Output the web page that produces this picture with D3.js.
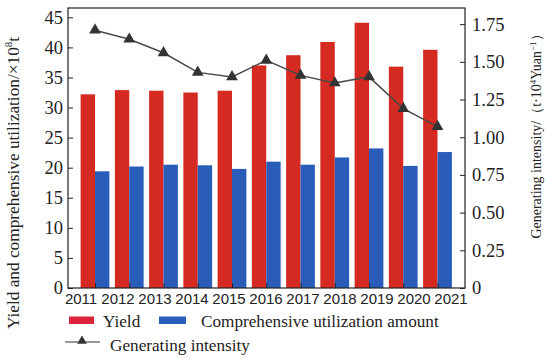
<!DOCTYPE html>
<html>
<head>
<meta charset="utf-8">
<script src="https://cdn.jsdelivr.net/npm/d3@7"></script>
<style>
  body { margin: 0; background: #fff; }
  svg { display: block; }
</style>
</head>
<body>
<script>
// chart data
var years = ["2011","2012","2013","2014","2015","2016","2017","2018","2019","2020","2021"];
var yieldVals = [32.2, 32.9, 32.8, 32.5, 32.8, 37.0, 38.7, 40.9, 44.1, 36.8, 39.6];
var utilVals = [19.4, 20.2, 20.5, 20.4, 19.8, 21.0, 20.5, 21.7, 23.2, 20.3, 22.6];
var intensityVals = [1.71, 1.65, 1.56, 1.43, 1.40, 1.51, 1.41, 1.36, 1.40, 1.19, 1.07];
var leftTicks = [0, 5, 10, 15, 20, 25, 30, 35, 40, 45];
var rightTicks = [0, 0.25, 0.5, 0.75, 1.0, 1.25, 1.5, 1.75];

var width = 550, height = 359;
var plot = {left: 68, right: 465, top: 8, bottom: 288};
var red = "#d52a22", blue = "#2a5cb9";
var serif = "'Liberation Serif','Times New Roman',serif";
var sans = "'Liberation Sans',Arial,sans-serif";

var svg = d3.select("body").append("svg")
    .attr("width", width)
    .attr("height", height);

// scales
var x = d3.scalePoint().domain(years).range([95, 437.5]);
var xLab = d3.scalePoint().domain(years).range([80.5, 450.5]);
var yL = d3.scaleLinear().domain([0, 46.55]).range([plot.bottom, plot.top]);
var yR = d3.scaleLinear().domain([0, 1.857]).range([plot.bottom, plot.top]);
var barW = x.step() * 0.42;

// bars
svg.append("g").selectAll("rect")
    .data(years)
  .enter().append("rect")
    .attr("x", function(d) { return x(d) - barW; })
    .attr("y", function(d, i) { return yL(yieldVals[i]); })
    .attr("width", barW)
    .attr("height", function(d, i) { return yL(0) - yL(yieldVals[i]); })
    .attr("fill", red);

svg.append("g").selectAll("rect")
    .data(years)
  .enter().append("rect")
    .attr("x", function(d) { return x(d); })
    .attr("y", function(d, i) { return yL(utilVals[i]); })
    .attr("width", barW)
    .attr("height", function(d, i) { return yL(0) - yL(utilVals[i]); })
    .attr("fill", blue);

// intensity line
var line = d3.line()
    .x(function(d, i) { return x(years[i]); })
    .y(function(d) { return yR(d); });

svg.append("path")
    .datum(intensityVals)
    .attr("d", line)
    .attr("fill", "none")
    .attr("stroke", "#4a4a4a")
    .attr("stroke-width", 1.5);

var tri = d3.symbol().type(d3.symbolTriangle).size(60);
svg.append("g").selectAll("path")
    .data(intensityVals)
  .enter().append("path")
    .attr("d", tri)
    .attr("transform", function(d, i) { return "translate(" + x(years[i]) + "," + yR(d) + ")"; })
    .attr("fill", "#333");

// frame
svg.append("rect")
    .attr("x", plot.left)
    .attr("y", plot.top)
    .attr("width", plot.right - plot.left)
    .attr("height", plot.bottom - plot.top)
    .attr("fill", "none")
    .attr("stroke", "#222")
    .attr("stroke-width", 1.2);

// axes
var gL = svg.append("g")
    .attr("transform", "translate(" + plot.left + ",0)")
    .call(d3.axisLeft(yL).tickValues(leftTicks).tickSize(-5).tickPadding(5).tickSizeOuter(0));
gL.select(".domain").remove();
gL.selectAll("text").style("font-family", serif).style("font-size", "18.5px").attr("fill", "#222");
gL.selectAll("line").attr("stroke", "#222");

var gR = svg.append("g")
    .attr("transform", "translate(" + plot.right + ",0)")
    .call(d3.axisRight(yR).tickValues(rightTicks).tickSize(-5).tickPadding(7).tickSizeOuter(0)
      .tickFormat(function(d) { return d === 0 ? "0" : d3.format(".2f")(d); }));
gR.select(".domain").remove();
gR.selectAll("text").style("font-family", serif).style("font-size", "18.5px").attr("fill", "#222");
gR.selectAll("line").attr("stroke", "#222");

var gB = svg.append("g")
    .attr("transform", "translate(0," + plot.bottom + ")")
    .call(d3.axisBottom(x).tickSize(-5).tickFormat("").tickSizeOuter(0));
gB.select(".domain").remove();
gB.selectAll("line").attr("stroke", "#222");

var gBL = svg.append("g")
    .attr("transform", "translate(0," + plot.bottom + ")")
    .call(d3.axisBottom(xLab).tickSize(0).tickPadding(5));
gBL.select(".domain").remove();
gBL.selectAll("text").style("font-family", sans).style("font-size", "15px").attr("fill", "#222");

// axis titles
svg.append("text")
    .attr("transform", "translate(19,183) rotate(-90)")
    .attr("text-anchor", "middle")
    .style("font-family", serif)
    .style("font-size", "17.3px")
    .attr("fill", "#222")
    .html("Yield and comprehensive utilization/×10<tspan dy='-7' font-size='11px'>8</tspan><tspan dy='7'>t</tspan>");

svg.append("text")
    .attr("transform", "translate(541,133) rotate(-90)")
    .attr("text-anchor", "middle")
    .style("font-family", serif)
    .style("font-size", "14px")
    .attr("fill", "#222")
    .html("Generating intensity/（t·10<tspan dy='-5' font-size='9px'>4</tspan><tspan dy='5'>Yuan</tspan><tspan dy='-5' font-size='9px'>−1</tspan><tspan dy='5'>）</tspan>");

// legend
var leg = svg.append("g").style("font-family", serif).style("font-size", "17.2px").attr("fill", "#222");
leg.append("rect").attr("x", 69).attr("y", 316.5).attr("width", 25).attr("height", 7.5).attr("fill", "#d9243a");
leg.append("text").attr("x", 103).attr("y", 327).text("Yield");
leg.append("rect").attr("x", 159).attr("y", 316.5).attr("width", 27).attr("height", 7.5).attr("fill", blue);
leg.append("text").attr("x", 201).attr("y", 327).text("Comprehensive utilization amount");
leg.append("line").attr("x1", 65).attr("x2", 100).attr("y1", 342).attr("y2", 342)
    .attr("stroke", "#333").attr("stroke-width", 1.2);
leg.append("path").attr("d", d3.symbol().type(d3.symbolTriangle).size(40))
    .attr("transform", "translate(82,341)").attr("fill", "#333");
leg.append("text").attr("x", 110).attr("y", 351).text("Generating intensity");
</script>
</body>
</html>
